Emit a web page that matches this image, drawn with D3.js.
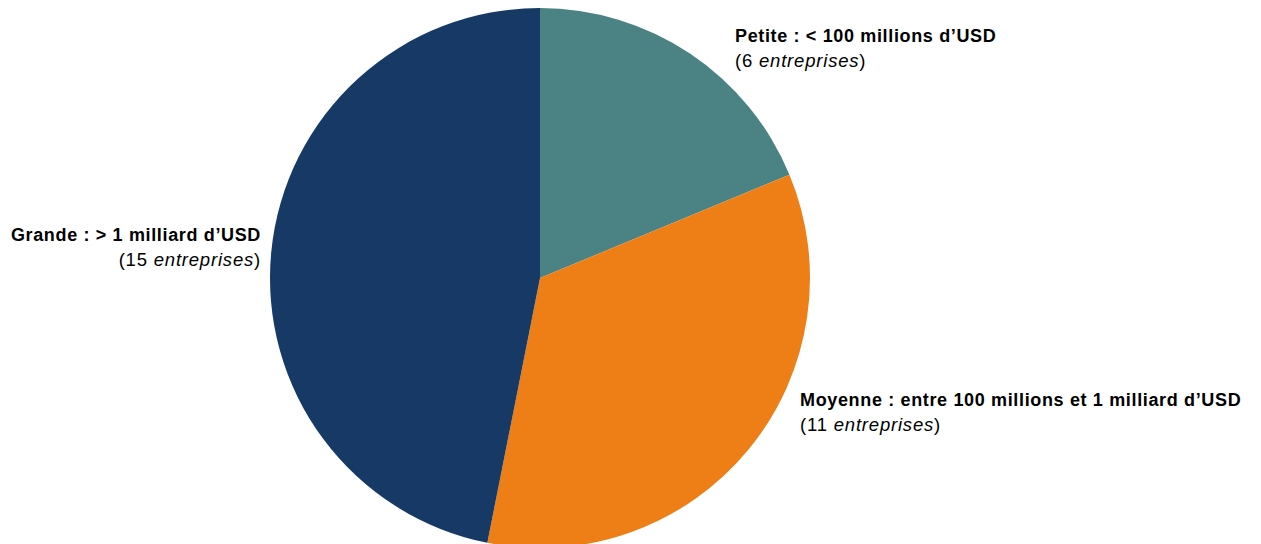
<!DOCTYPE html>
<html><head><meta charset="utf-8">
<script src="https://cdn.jsdelivr.net/npm/d3@7"></script>
<style>body{margin:0;background:#fff}svg{display:block}text{font-family:"Liberation Sans",Arial,sans-serif;fill:#000}
.l1{font-size:18px;font-weight:bold;letter-spacing:0.65px}.l2{font-size:18.5px;letter-spacing:0.8px}</style>
</head><body><svg id="c" width="1261" height="544"></svg>
<script>
const categories = ["Petite : < 100 millions d’USD", "Moyenne : entre 100 millions et 1 milliard d’USD", "Grande : > 1 milliard d’USD"];
const counts = [6, 11, 15];
const colors = ["#4B8284", "#EE7F16", "#163A65"];
const countWord = "entreprises";

const svg = d3.select("#c");
const cx = 540, cy = 278, r = 270;
const data = categories.map((c, i) => ({cat: c, n: counts[i], col: colors[i]}));
const pie = d3.pie().value(d => d.n).sort(null);
const arc = d3.arc().innerRadius(0).outerRadius(r);
const g = svg.append("g").attr("transform", `translate(${cx},${cy})`);
g.selectAll("path").data(pie(data)).join("path").attr("d", arc).attr("fill", d => d.data.col);

const labelPos = [
  {x: 735, y: 42, anchor: "start"},
  {x: 800, y: 406, anchor: "start"},
  {x: 261, y: 241, anchor: "end"}
];
data.forEach((d, i) => {
  const p = labelPos[i];
  const t = svg.append("text").attr("class", "l1").attr("x", p.x).attr("y", p.y).attr("text-anchor", p.anchor);
  t.append("tspan").text(d.cat);
  const t2 = svg.append("text").attr("class", "l2").attr("x", p.x).attr("y", p.y + 25).attr("text-anchor", p.anchor);
  t2.append("tspan").text("(" + d.n + " ");
  t2.append("tspan").attr("font-style", "italic").text(countWord);
  t2.append("tspan").text(")");
});
</script></body></html>
